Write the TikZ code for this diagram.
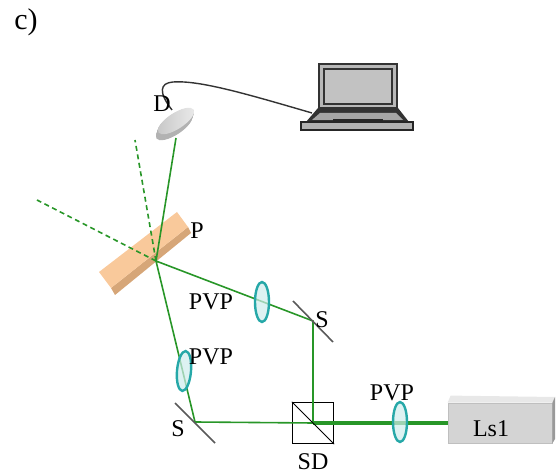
\documentclass[tikz,border=0pt]{standalone}
\usepackage{fontspec}
\setmainfont{Liberation Serif}
\usetikzlibrary{shapes.geometric,calc}

\definecolor{beam}{RGB}{40,150,40}
\definecolor{lenscol}{RGB}{38,168,168}
\definecolor{plate}{RGB}{249,201,155}
\definecolor{plateside}{RGB}{214,166,120}

\begin{document}
\begin{tikzpicture}[x=0.5pt, y=-0.5pt, font=\fontsize{12}{14}\selectfont,
    ray/.style={draw=beam, line width=0.8pt},
    pump/.style={draw=beam, line width=2pt},
    ghost/.style={ray, dash pattern=on 2.5pt off 1.8pt},
    lens/.style={ellipse, draw=lenscol, fill=lenscol!22, fill opacity=0.7,
      line width=1.2pt, minimum width=7pt, minimum height=20pt, inner sep=0pt},
    mirror/.style={draw=black!65, line width=0.8pt},
    splitter/.style={draw, line width=0.7pt, minimum size=20.5pt, inner sep=0pt},
    laser/.style={draw=black!25, fill=black!17, minimum width=52pt,
      minimum height=20pt, inner sep=0pt},
    lbl/.style={inner sep=0pt} ]

    \useasboundingbox (0,0) rectangle (556,474);

    \node[lbl, font=\fontsize{15}{18}\selectfont] (tag) at (26,22) {c)};

    % laptop
    \draw[black!80, fill=black!28, line width=0.6pt] (319,64) rectangle (397,108);
    \draw[black!80, fill=black!24, line width=0.6pt] (324,69) rectangle (392,104);
    \fill[black!80] (318,108) -- (398,108) -- (409,122) -- (306,122) -- cycle;
    \fill[black!35] (320,113) -- (396,113) -- (403,120) -- (312,120) -- cycle;
    \draw[black!85, fill=black!30, line width=0.6pt] (301,122) rectangle (413,130);
    \fill[black!85] (333,119) rectangle (383,123);
    \coordinate (pc) at (312,113);

    % detector
    \coordinate (det) at (176,138);
    \foreach \s in {0,0.1,...,1}
      \fill[black!30] ($(174,127)+\s*(2,-6)$) ellipse [x radius=21, y radius=8, rotate=33];
    \shade[left color=black!22, right color=black!8]
      (176,121) ellipse [x radius=21, y radius=8, rotate=33];

    \draw[black!80, line width=0.7pt] (pc) .. controls (250,95) and (200,80) .. (173,82)
      .. controls (160,83) and (158,92) .. (172,110);
    \node[lbl] (dl) at (162,104) {D};

    % sample plate
    \fill[plateside] (111,288) -- (188,227) -- (191,233) -- (115,295) -- cycle;
    \fill[plate] (99,272) -- (177,212) -- (188,227) -- (111,288) -- cycle;
    \node[lbl] (pl) at (197,231) {P};

    \coordinate (pt) at (156,261);
    \coordinate (g1) at (37,200);
    \coordinate (g2) at (135,140);
    \coordinate (su) at (313,321);
    \coordinate (sl) at (195,422);
    \node[splitter] (sd) at (313,423) {};
    \node[laser] (ls) at (500,423) {};

    \draw[ghost] (pt) -- (g1);
    \draw[ghost] (pt) -- (g2);
    \draw[ray] (det) -- (pt);
    \draw[ray] (pt) -- (su) -- (sd.center) -- (sl) -- (pt);
    \draw[pump] (sd.center) -- (ls.west);

    \draw (sd.north west) -- (sd.south east);
    \draw[mirror] (293,301) -- (333,342);
    \draw[mirror] (175,403) -- (215,443);

    % laser head
    \fill[black!9] (ls.north west) -- ++(3,-7) -- (555,397) -- (ls.north east) -- cycle;
    \fill[black!40] (ls.north east) -- (555,397) -- (555,439) -- (ls.south east) -- cycle;
    \node[lbl] (lsl) at (491,429) {Ls1};

    \node[lens] (l1) at (262,302) {};
    \node[lens, rotate=-5] (l2) at (184,371) {};
    \node[lens] (l3) at (400,422) {};

    \node[lbl] (pvp1) at (211,302) {PVP};
    \node[lbl] (pvp2) at (211,357) {PVP};
    \node[lbl] (pvp3) at (392,393) {PVP};
    \node[lbl] (s1) at (322,320) {S};
    \node[lbl] (s2) at (178,429) {S};
    \node[lbl] (sdl) at (313,462) {SD};

  \end{tikzpicture}
\end{document}
